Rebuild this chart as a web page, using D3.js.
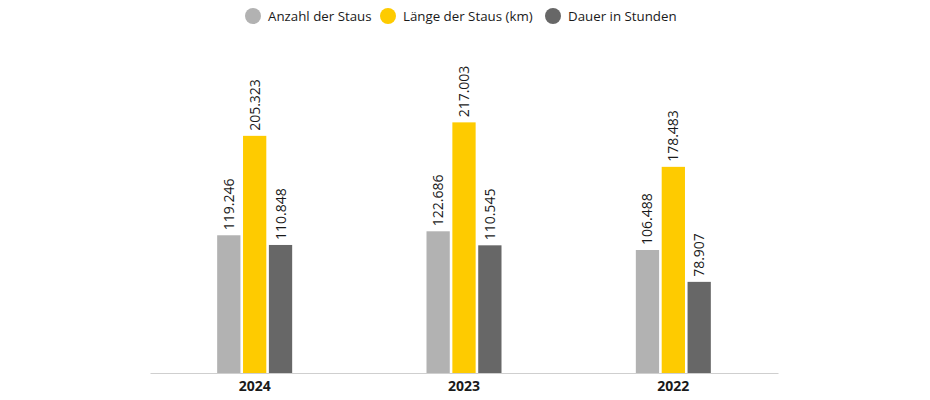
<!DOCTYPE html>
<html><head><meta charset="utf-8">
<script src="https://cdn.jsdelivr.net/npm/d3@7"></script>
<style>body{margin:0;background:#fff;} svg{display:block;font-family:"Open Sans","Noto Sans",sans-serif;}</style>
</head><body>
<script>
const categories = ["2024", "2023", "2022"];
const seriesNames = ["Anzahl der Staus", "Länge der Staus (km)", "Dauer in Stunden"];
const anzahl = [119.246, 122.686, 106.488];
const laenge = [205.323, 217.003, 178.483];
const dauer = [110.848, 110.545, 78.907];
const colors = ["#b2b2b2", "#fecb00", "#676767"];

const W = 930, H = 400;
const svg = d3.select("body").append("svg").attr("width", W).attr("height", H);
const series = [anzahl, laenge, dauer];

const x = d3.scaleBand().domain(categories).range([150, 778]).padding(0);
const y = d3.scaleLinear().domain([0, 250]).range([373, 373 - 288.75]);
const inner = d3.scaleBand().domain(d3.range(3)).range([-37.5, 37.5]).paddingInner(0.1);

// axis
const ax = svg.append("g").attr("transform", "translate(0,373)").call(d3.axisBottom(x).tickSize(0).tickPadding(8));
ax.select(".domain").attr("stroke", "#cfcfcf").attr("stroke-width", 1.2);
ax.selectAll("text").attr("font-size", 14).attr("font-weight", "bold").attr("fill", "#1a1a1a").attr("font-family", "\"Open Sans\",sans-serif");

categories.forEach((c, ci) => {
  const cx = x(c) + x.bandwidth() / 2;
  series.forEach((s, si) => {
    const bx = cx + inner(si);
    svg.append("rect").attr("x", bx).attr("y", y(s[ci])).attr("width", inner.bandwidth())
      .attr("height", y(0) - y(s[ci])).attr("fill", colors[si]);
    const tx = bx + inner.bandwidth() / 2, ty = y(s[ci]) - 5;
    svg.append("text").attr("transform", `translate(${tx + 5},${ty}) rotate(-90)`)
      .attr("font-size", 14).attr("fill", "#1a1a1a").attr("text-anchor", "start")
      .text(d3.format(".3f")(s[ci]));
  });
});

// legend
const legendX = [253, 388, 553];
seriesNames.forEach((n, i) => {
  svg.append("circle").attr("cx", legendX[i]).attr("cy", 16).attr("r", 8).attr("fill", colors[i]);
  svg.append("text").attr("x", legendX[i] + 15).attr("y", 21).attr("font-size", 13.3).attr("fill", "#1a1a1a").text(n);
});
</script>
</body></html>
